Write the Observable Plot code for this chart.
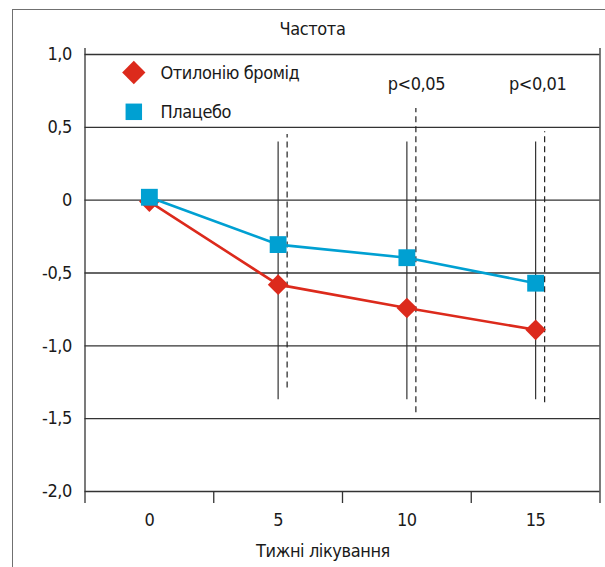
<!DOCTYPE html>
<html>
<head>
<meta charset="utf-8">
<script src="https://cdn.jsdelivr.net/npm/d3@7"></script>
<script src="https://cdn.jsdelivr.net/npm/@observablehq/plot@0.6"></script>
<style>
  html, body { margin: 0; padding: 0; background: #fff; overflow: hidden; }
  #wrap { position: relative; width: 605px; height: 567px; }
  #frame { position: absolute; left: 12px; top: 9px; width: 640px; height: 600px;
           border-top: 1.6px solid #707070; border-left: 1.6px solid #707070; box-sizing: border-box; }
  #chart { position: absolute; left: 0; top: 0; }
  #chart svg text { letter-spacing: -0.4px; }
</style>
</head>
<body>
<div id="wrap"><div id="frame"></div><div id="chart"></div></div>
<script>
const weeks = [0, 5, 10, 15];
const otilonium = [-0.01, -0.58, -0.74, -0.89];
const placebo = [0.02, -0.305, -0.395, -0.57];
const seriesNames = ["Отилонію бромід", "Плацебо"];

const rangeWeeks = [5, 10, 15];
const solidLow = [-1.37, -1.37, -1.37];
const solidHigh = [0.40, 0.40, 0.40];
const dashLow = [-1.29, -1.46, -1.39];
const dashHigh = [0.45, 0.63, 0.47];

const pWeeks = [10, 15];
const pLabels = ["p<0,05", "p<0,01"];

const yTicks = [1, 0.5, 0, -0.5, -1, -1.5, -2];
const yTickLabels = ["1,0", "0,5", "0", "-0,5", "-1,0", "-1,5", "-2,0"];
const xBounds = [-2.5, 2.5, 7.5, 12.5, 17.5];
const xTickLabels = ["0", "5", "10", "15"];

const title = "Частота";
const xTitle = "Тижні лікування";

const RED = "#dc2a1c";
const BLUE = "#00a0d2";
const GRID = "#333333";
const FONT = "'DejaVu Sans Condensed', 'Liberation Sans', sans-serif";
const FS = 18;
const INK = "#1a1a1a";

const redData = weeks.map((w, i) => ({week: w, value: otilonium[i]}));
const blueData = weeks.map((w, i) => ({week: w, value: placebo[i]}));
const ranges = rangeWeeks.map((w, i) => ({week: w, sLo: solidLow[i], sHi: solidHigh[i], dLo: dashLow[i], dHi: dashHigh[i]}));

const plot = Plot.plot({
  width: 605,
  height: 567,
  marginLeft: 84.5,
  marginRight: 5.5,
  marginTop: 54,
  marginBottom: 76,
  style: {fontFamily: FONT, fontSize: FS + "px", color: INK, background: "transparent"},
  x: {type: "linear", domain: [-2.5, 17.5], label: null},
  y: {type: "linear", domain: [-2, 1], label: null},
  marks: [
    Plot.ruleY(yTicks, {stroke: GRID, strokeWidth: 1.3}),
    Plot.ruleX([-2.5, 17.5], {stroke: GRID, strokeWidth: 1.3, insetTop: -6}),
    Plot.axisX({ticks: xBounds, tickSize: 12, tickFormat: () => "", stroke: GRID, strokeWidth: 1.3, label: null}),
    Plot.axisX({ticks: weeks, tickSize: 0, tickPadding: 22, tickFormat: (d, i) => xTickLabels[i], fontSize: FS, fill: INK, label: null}),
    Plot.axisY({ticks: yTicks, tickSize: 0, tickPadding: 13, tickFormat: (d, i) => yTickLabels[i], fontSize: FS, fill: INK, label: null}),
    Plot.ruleX(ranges, {x: "week", y1: "sLo", y2: "sHi", stroke: GRID, strokeWidth: 1.2}),
    Plot.ruleX(ranges, {x: "week", y1: "dLo", y2: "dHi", dx: 9, stroke: "#222", strokeWidth: 1.2, strokeDasharray: "6,4"}),
    Plot.line(redData, {x: "week", y: "value", stroke: RED, strokeWidth: 2.6}),
    Plot.dot(redData, {x: "week", y: "value", symbol: "diamond2", r: 9.3, fill: RED, stroke: "none"}),
    Plot.line(blueData, {x: "week", y: "value", stroke: BLUE, strokeWidth: 2.6}),
    Plot.dot(blueData, {x: "week", y: "value", symbol: "square", r: 9.5, fill: BLUE, stroke: "none"}),
    Plot.text([pLabels[0]], {x: [pWeeks[0]], frameAnchor: "top", dy: 30, dx: 9.5, lineAnchor: "middle", fontSize: FS, fill: INK}),
    Plot.text([pLabels[1]], {x: [pWeeks[1]], frameAnchor: "top", dy: 30, dx: 2, lineAnchor: "middle", fontSize: FS, fill: INK}),
    Plot.dot([seriesNames[0]], {frameAnchor: "top-left", dx: 48.8, dy: 18, symbol: "diamond2", r: 10.5, fill: RED, stroke: "none"}),
    Plot.dot([seriesNames[1]], {frameAnchor: "top-left", dx: 48.8, dy: 57.3, symbol: "square", r: 9.3, fill: BLUE, stroke: "none"}),
    Plot.text([seriesNames[0]], {frameAnchor: "top-left", dx: 75.5, dy: 18.5, textAnchor: "start", lineAnchor: "middle", fontSize: FS, fill: INK}),
    Plot.text([seriesNames[1]], {frameAnchor: "top-left", dx: 75.5, dy: 57.5, textAnchor: "start", lineAnchor: "middle", fontSize: FS, fill: INK}),
    Plot.text([title], {frameAnchor: "top", dy: -25, dx: -30, lineAnchor: "middle", fontSize: FS, fill: INK}),
    Plot.text([xTitle], {frameAnchor: "bottom", dy: 60, dx: -19.5, lineAnchor: "middle", fontSize: FS, fill: INK})
  ]
});
document.getElementById("chart").appendChild(plot);
</script>
</body>
</html>
